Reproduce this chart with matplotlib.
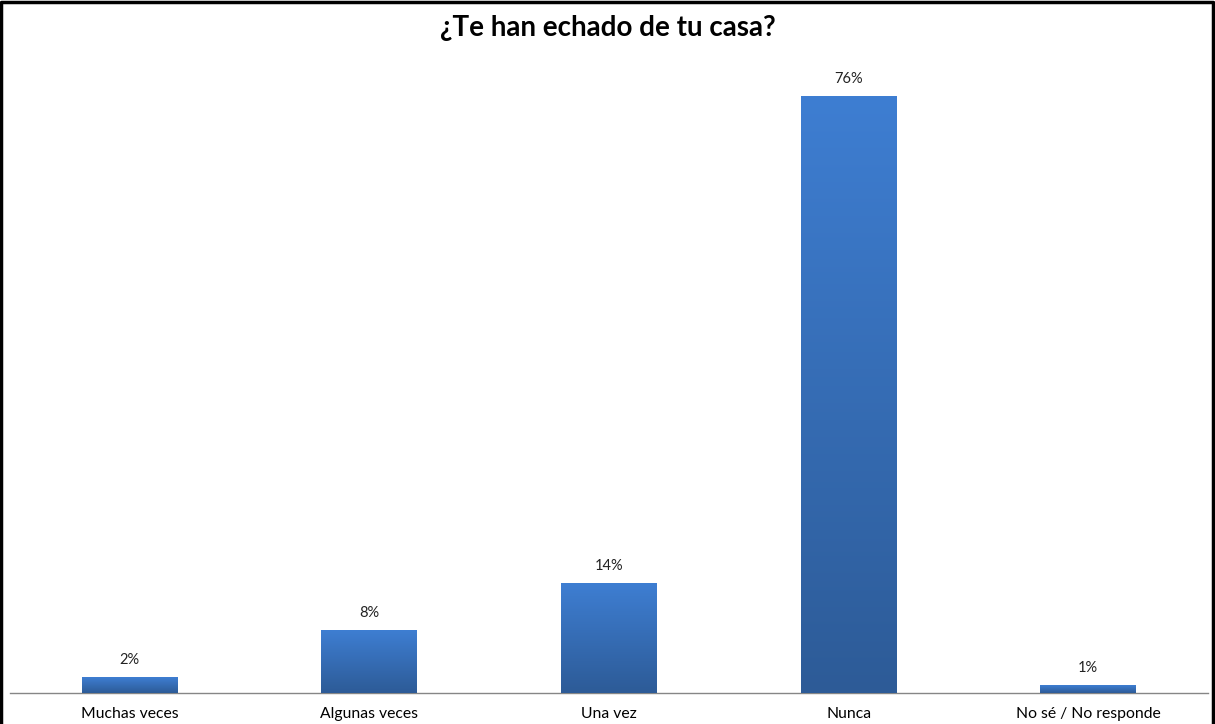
import numpy as np
import matplotlib.pyplot as plt
from matplotlib.colors import LinearSegmentedColormap
from matplotlib.lines import Line2D

# Datos de la encuesta
categorias = ['Muchas veces', 'Algunas veces', 'Una vez', 'Nunca', 'No sé / No responde']
porcentajes = [2, 8, 14, 76, 1]

plt.rcParams['font.family'] = ['Lato', 'DejaVu Sans']

fig = plt.figure(figsize=(12.15, 7.24), dpi=100)
ax = fig.add_axes([10 / 1215, 1 - 693 / 724, 1198 / 1215, 628 / 724])

x = np.arange(len(categorias))
bars = ax.bar(x, porcentajes, width=0.4, color='#3a74c4', zorder=2)

# Degradado vertical en cada barra
cmap = LinearSegmentedColormap.from_list('azul', ['#2d5b97', '#3e7ed2'])
grad = np.linspace(0, 1, 256).reshape(-1, 1)
for b in bars:
    x0, y0 = b.get_x(), b.get_y()
    w, h = b.get_width(), b.get_height()
    im = ax.imshow(grad, cmap=cmap, origin='lower', aspect='auto',
                   extent=[x0, x0 + w, y0, y0 + h], zorder=3)
    im.set_clip_path(b)

for xi, v in zip(x, porcentajes):
    ax.text(xi, v + 1.3, f'{v}%', ha='center', va='bottom', fontsize=10.5, color='#222222')

ax.set_xlim(-0.5, 4.5)
ax.set_ylim(0, 80)
ax.set_xticks(x)
ax.set_xticklabels(categorias, fontsize=11.3)
ax.tick_params(axis='x', length=0, pad=10)
ax.set_yticks([])
for s in ['top', 'right', 'left']:
    ax.spines[s].set_visible(False)
ax.spines['bottom'].set_color('#868686')
ax.spines['bottom'].set_linewidth(1)

fig.text(0.5, 1 - 28 / 724, '¿Te han echado de tu casa?', ha='center', va='center',
         fontsize=20, fontweight='bold')

# Marco negro (arriba, izquierda, derecha)
fig.add_artist(Line2D([0.001, 0.001, 0.9985, 0.9985], [0, 0.997, 0.997, 0],
                      transform=fig.transFigure, color='black', linewidth=2.5))

fig.savefig('out.png', dpi=100)
